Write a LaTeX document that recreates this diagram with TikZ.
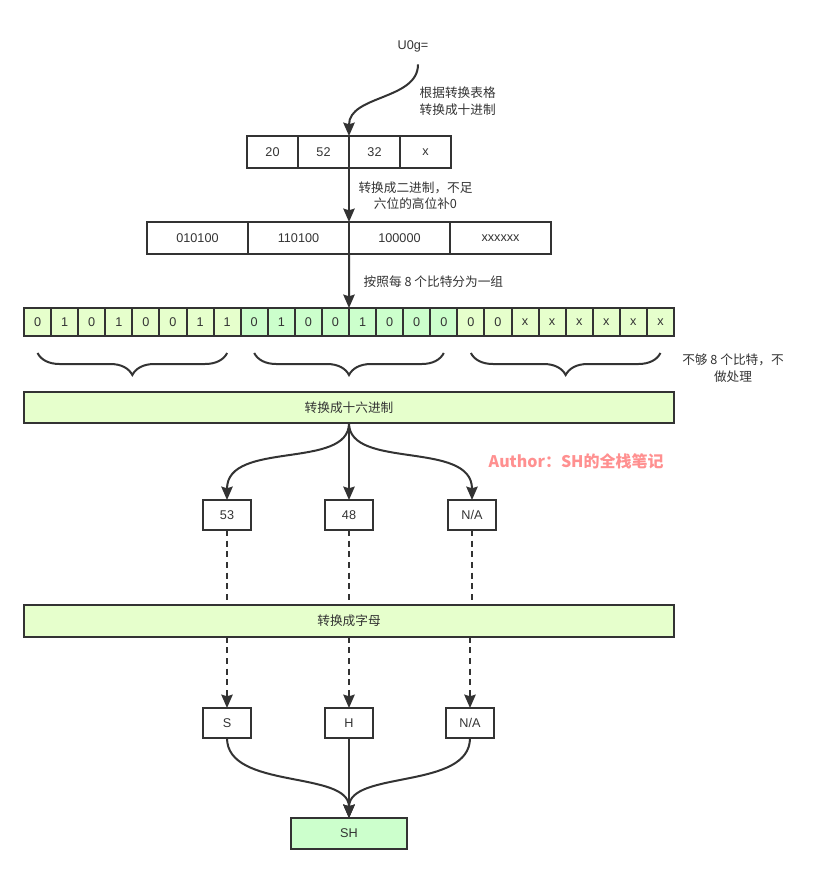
\documentclass[tikz,border=0pt]{standalone}
\usepackage{fontspec}
\setmainfont{Liberation Sans}
\newfontfamily\cjk{Noto Sans CJK SC}
\usepackage{tikz}
\usetikzlibrary{arrows.meta,decorations.pathreplacing,positioning}
\definecolor{linegray}{HTML}{333333}
\definecolor{lightlime}{HTML}{E6FFCC}
\definecolor{lightmint}{HTML}{CCFFCC}
\definecolor{authorpink}{HTML}{FF9090}

\begin{document}
\begin{tikzpicture}[x=0.75pt,y=-0.75pt,font=\fontsize{9.5}{12}\selectfont,text=linegray,
  cell/.style={draw=linegray,line width=1.5pt,inner sep=0pt,outer sep=0pt,minimum width=38.25pt,minimum height=24pt},
  wcell/.style={cell,minimum width=75.75pt},
  bit/.style={cell,minimum width=20.3125pt,minimum height=21pt},
  bar/.style={cell,fill=lightlime,minimum width=487.5pt,minimum height=23.5pt,font=\cjk\fontsize{9.5}{12}\selectfont},
  small/.style={cell,minimum width=36pt,minimum height=22.5pt},
  arr/.style={line width=1.5pt,draw=linegray,-{Stealth[length=10pt,width=8.5pt,inset=1.2pt]}},
  dashln/.style={line width=1.5pt,draw=linegray,dash pattern=on 4.5pt off 3.5pt},
  brc/.style={decorate,decoration={brace,amplitude=16.5pt},line width=1.5pt,draw=linegray},
  note/.style={font=\cjk\fontsize{9.5}{12.5}\selectfont,align=center}]
    \useasboundingbox (0,0) rectangle (818,874);

    % input text and decimal values
    \node (u0g) at (413,46) {U0g=};
    \node[cell] (d1) at (272.5,152) {20};
    \node[cell,right=0pt of d1] (d2) {52};
    \node[cell,right=0pt of d2] (d3) {32};
    \node[cell,right=0pt of d3] (d4) {x};

    % six bit groups
    \node[wcell] (w1) at (197.5,238) {010100};
    \node[wcell,right=0pt of w1] (w2) {110100};
    \node[wcell,right=0pt of w2] (w3) {100000};
    \node[wcell,right=0pt of w3] (w4) {xxxxxx};

    % single bits
    \node[bit,fill=lightlime] (b1) at (37.54,322) {0};
    \node[bit,fill=lightlime,right=0pt of b1] (b2) {1};
    \node[bit,fill=lightlime,right=0pt of b2] (b3) {0};
    \node[bit,fill=lightlime,right=0pt of b3] (b4) {1};
    \node[bit,fill=lightlime,right=0pt of b4] (b5) {0};
    \node[bit,fill=lightlime,right=0pt of b5] (b6) {0};
    \node[bit,fill=lightlime,right=0pt of b6] (b7) {1};
    \node[bit,fill=lightlime,right=0pt of b7] (b8) {1};
    \node[bit,fill=lightmint,right=0pt of b8] (b9) {0};
    \node[bit,fill=lightmint,right=0pt of b9] (b10) {1};
    \node[bit,fill=lightmint,right=0pt of b10] (b11) {0};
    \node[bit,fill=lightmint,right=0pt of b11] (b12) {0};
    \node[bit,fill=lightmint,right=0pt of b12] (b13) {1};
    \node[bit,fill=lightmint,right=0pt of b13] (b14) {0};
    \node[bit,fill=lightmint,right=0pt of b14] (b15) {0};
    \node[bit,fill=lightmint,right=0pt of b15] (b16) {0};
    \node[bit,fill=lightlime,right=0pt of b16] (b17) {0};
    \node[bit,fill=lightlime,right=0pt of b17] (b18) {0};
    \node[bit,fill=lightlime,right=0pt of b18] (b19) {x};
    \node[bit,fill=lightlime,right=0pt of b19] (b20) {x};
    \node[bit,fill=lightlime,right=0pt of b20] (b21) {x};
    \node[bit,fill=lightlime,right=0pt of b21] (b22) {x};
    \node[bit,fill=lightlime,right=0pt of b22] (b23) {x};
    \node[bit,fill=lightlime,right=0pt of b23] (b24) {x};

    \draw[brc] ([yshift=-12.75pt]b8.south) -- ([yshift=-12.75pt]b1.south);
    \draw[brc] ([yshift=-12.75pt]b16.south) -- ([yshift=-12.75pt]b9.south);
    \draw[brc] ([yshift=-12.75pt]b24.south) -- ([yshift=-12.75pt]b17.south);

    % hex and letters
    \node[bar] (hex) at (349,407.5) {转换成十六进制};
    \node[small] (h1) at (227,515) {53};
    \node[small] (h2) at (349,515) {48};
    \node[small] (h3) at (472,515) {N/A};
    \node[bar] (abc) at (349,621) {转换成字母};
    \node[small] (l1) at (227,723) {S};
    \node[small] (l2) at (349,723) {H};
    \node[small] (l3) at (470,723) {N/A};
    \node[cell,fill=lightmint,minimum width=87pt,minimum height=23.25pt] (sh) at (349,833.5) {SH};

    % notes
    \node[note,anchor=west,align=left] (n1) at (415,101) {根据转换表格\\转换成十进制};
    \node[note] (n2) at (415.5,195.5) {转换成二进制，不足\\六位的高位补0};
    \node[note,anchor=west] (n3) at (359,282) {按照每 8 个比特分为一组};
    \node[note] (n4) at (733,368) {不够 8 个比特，不\\做处理};
    \node[anchor=west,text=authorpink,font=\cjk\bfseries\fontsize{12}{13}\selectfont] (author) at (484,461) {Author：SH的全栈笔记};

    \draw[arr] ([xshift=3.75pt,yshift=-6pt]u0g.south) .. controls (418,100) and (349,95) .. (d2.north east);
    \draw[arr] (d2.south east) -- (w2.north east);
    \draw[arr] (w2.south east) -- (b12.north east);

    \draw[arr] (hex.south) .. controls (349,470) and (227,440) .. (h1.north);
    \draw[arr] (hex.south) -- (h2.north);
    \draw[arr] (hex.south) .. controls (349,470) and (472,440) .. (h3.north);

    \draw[dashln] (h1.south) -- (h1 |- abc.north);
    \draw[dashln] (h2.south) -- (h2 |- abc.north);
    \draw[dashln] (h3.south) -- (h3 |- abc.north);
    \draw[arr,dashln] (l1 |- abc.south) -- (l1.north);
    \draw[arr,dashln] (l2 |- abc.south) -- (l2.north);
    \draw[arr,dashln] (l3 |- abc.south) -- (l3.north);

    \draw[arr] (l1.south) .. controls (227,790) and (349,770) .. (sh.north);
    \draw[arr] (l2.south) -- (sh.north);
    \draw[arr] (l3.south) .. controls (470,790) and (349,770) .. (sh.north);
\end{tikzpicture}
\end{document}
